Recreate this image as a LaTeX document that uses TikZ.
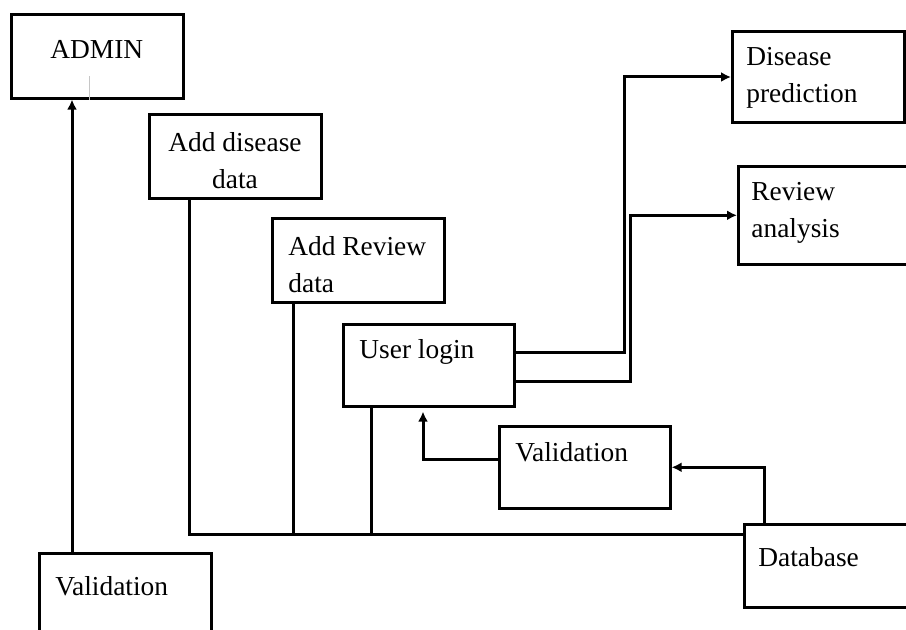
\documentclass[tikz,border=0pt]{standalone}
\usepackage{fontspec}
\setmainfont{Liberation Serif}
\usetikzlibrary{arrows.meta}

\begin{document}
\begin{tikzpicture}[x=0.5pt,y=-0.5pt,
    box/.style={draw,line width=1.3pt,anchor=north west,inner sep=0pt,
      minimum width=86pt,minimum height=42pt},
    txt/.style={anchor=north west,inner sep=0pt,align=left,
      font=\fontsize{13.7pt}{18.3pt}\selectfont},
    wire/.style={line width=1.5pt},
    arr/.style={wire,-{Latex[length=5pt,width=5pt]}}]
  \clip (0,0) rectangle (906,630);

  \node[box] (admin) at (10,13) {};
  \node[box] (adddis) at (148,113) {};
  \node[box] (addrev) at (271,217) {};
  \node[box,minimum width=85.5pt,minimum height=41pt] (user) at (342,323) {};
  \node[box,minimum width=85.5pt,minimum height=41pt] (valmid) at (498,425) {};
  \node[box,minimum height=45pt] (valbot) at (38,552) {};
  \node[box,minimum width=85.5pt,minimum height=41.5pt] (db) at (743,523) {};
  \node[box,minimum height=45.5pt] (pred) at (731,30) {};
  \node[box,minimum width=85.5pt,minimum height=49pt] (rev) at (737,165) {};

  \node[txt] (adminT) at (50,40) {ADMIN};
  \node[txt,anchor=north,align=center] (adddisT) at (235,132) {Add disease\\data};
  \node[txt] (addrevT) at (288,236) {Add Review\\data};
  \node[txt] (userT) at (359,339) {User login};
  \node[txt] (valmidT) at (515,442) {Validation};
  \node[txt] (valbotT) at (55,576) {Validation};
  \node[txt] (dbT) at (758,547) {Database};
  \node[txt] (predT) at (746,47) {Disease\\prediction};
  \node[txt] (revT) at (751,182) {Review\\analysis};

  % faint tick inside the admin box
  \draw[gray!45,line width=0.5pt] ([xshift=39.5pt]admin.south west) -- ++(0,12pt);

  \coordinate (bus) at ([yshift=-6pt]db.north west);
  \coordinate (ad) at ([xshift=20.5pt]adddis.south west);
  \coordinate (ar) at ([xshift=11pt]addrev.south west);
  \coordinate (ul) at ([xshift=14.5pt]user.south west);

  \draw[arr] ([xshift=17pt]valbot.north west) -- ([xshift=17pt]valbot.north west |- admin.south);
  \draw[wire] (ad) |- (bus);
  \draw[wire] (ar) -- (ar |- bus);
  \draw[wire] (ul) -- (ul |- bus);

  \draw[arr] ([yshift=-15pt]user.north east) -- ++(54.5pt,0) |- ([yshift=-23.5pt]pred.north west);
  \draw[arr] ([yshift=-29.5pt]user.north east) -- ++(57.5pt,0) |- (rev.west);
  \draw[arr] ([yshift=-17.5pt]valmid.north west) -| ([xshift=40.5pt,yshift=-2pt]user.south west);
  \draw[arr] ([xshift=10.5pt]db.north west) |- (valmid.east);
\end{tikzpicture}
\end{document}
